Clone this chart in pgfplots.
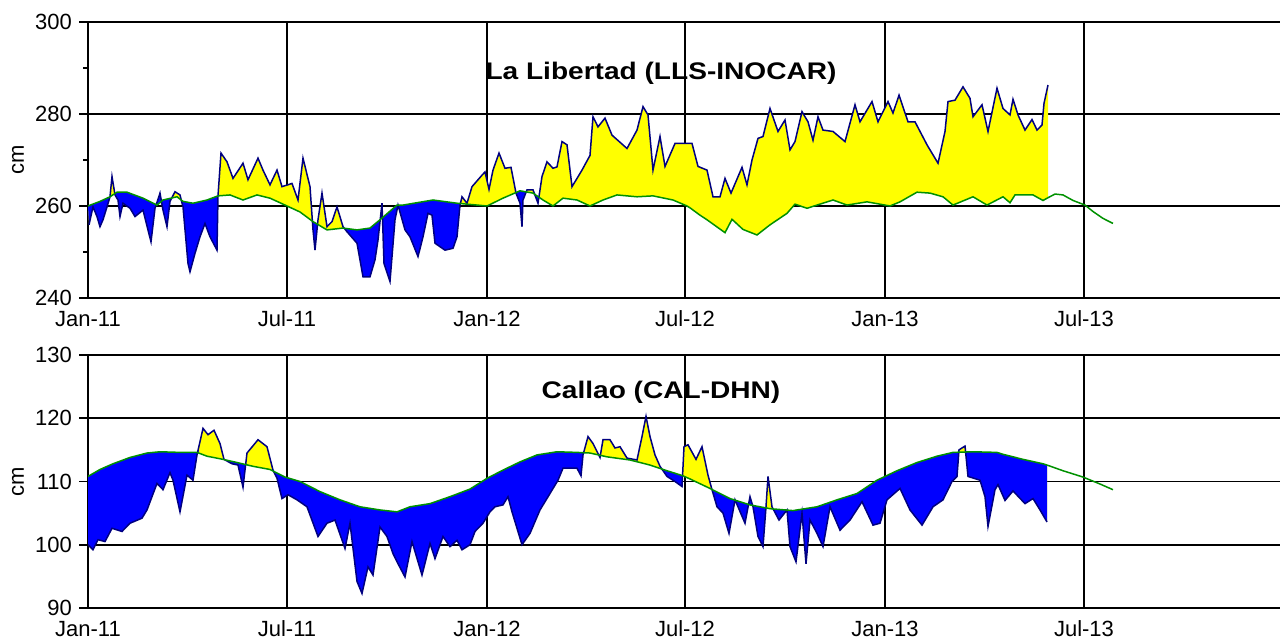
\documentclass[border=0pt]{standalone}
\usepackage{pgfplots}
\pgfplotsset{compat=1.18}
\usepackage{pgfplotstable}
\usepgfplotslibrary{fillbetween}
\usepackage{fontspec}
\setmainfont{Liberation Sans}
\newfontfamily\titlefont{Liberation Sans}[FakeStretch=1.17]

\definecolor{fyellow}{RGB}{255,255,0}
\definecolor{fblue}{RGB}{0,0,255}
\definecolor{navyl}{RGB}{0,0,128}
\definecolor{gline}{RGB}{0,145,0}

% x = horizontal position on the time axis (0 = 1 Jan 2011)
\pgfplotstableread{
x y
1 255.9
5 259.8
9 257.7
12 255.5
15 257
19 259.8
22 262
24 266.4
27 262.4
30 261.3
32 257.7
35 260.6
42 259.5
47 257.7
55 259.1
63 252.2
67 259.5
72 262.8
75 259.1
79 255.5
82 261
87 263.1
92 262.4
95 259.8
100 247.5
102 245.7
107 249.7
112 253.3
117 256.2
122 253.3
129 250.4
130 262.2
133 271.5
139 269.6
145 266
155 269.3
160 265.7
170 270.4
175 267.8
182 264.6
189 267.8
194 264.2
204 264.9
210 261.3
215 270.4
222 264.2
225 254.8
227 250.4
230 257
234 262.8
239 255.5
244 256.6
249 259.8
255 255.5
259 254.4
269 251.9
275 244.6
282 244.6
287 248.3
290 252.6
294 260.6
296 247.5
302 243.6
307 257
310 260.2
317 254.8
322 253.3
330 249
335 253.3
340 258.4
344 258
347 251.9
357 250.4
365 250.8
369 253.3
372 260.2
374 262
379 260.6
384 264.2
394 266.7
397 267.4
401 263.6
405 267.8
411 271.5
417 268.2
423 268.4
428 262.8
432 260.6
434 255.5
435 261.3
439 263.5
445 263.5
450 260.6
454 266.4
459 269.6
465 268.2
469 268.5
474 274
479 273.3
484 264.2
494 267.8
502 271
505 279.4
510 277.2
517 279.1
524 275.4
539 272.5
549 276.5
555 281.6
560 279.8
565 267.8
572 275.1
577 268.6
587 273.6
604 273.6
610 268.6
619 267.8
625 262
632 262
637 266
643 262.8
654 268.4
659 264.6
664 270
670 274.7
675 275.1
682 281.2
690 276.2
697 278.7
702 272.2
707 274
714 280.5
720 278.3
725 274.3
730 279.4
735 276.5
745 276.2
757 274
767 282
772 278.3
784 282.7
790 278.3
800 282.7
805 280.2
811 284.1
820 278.3
827 278.3
839 273.3
850 269.3
857 276.2
860 282.7
867 283
875 285.9
882 283.4
885 279.4
894 282
900 276.2
909 285.6
915 281.2
922 279.8
925 283.2
930 279.8
937 276.5
944 278.8
949 276.5
954 277.6
956 282.3
960 286.3
}\obsA

\pgfplotstableread{
x y
0 260.0
12 261
22 262
29 263
39 263
55 261.7
69 260.2
75 261.3
89 262
95 261
105 260.6
119 261.3
130 262.2
142 262.4
155 261.3
169 262.4
182 261.7
199 260
212 258.7
225 256.6
239 254.8
255 255.2
269 254.8
282 255.2
292 257
309 260.2
315 260.2
345 261.3
369 260.6
399 260
415 261.7
432 263.3
445 262.8
455 261.3
465 260
475 261.7
489 261.3
502 260
515 261.3
529 262.4
549 262
565 262.2
585 261.3
599 260
602 259.6
612 258
619 257
637 254.2
644 257.1
655 254.9
669 253.7
682 255.9
699 258.4
707 260.4
719 259.5
729 260.2
745 261.3
759 260.2
779 260.9
802 260
812 260.9
829 263
842 262.8
855 262
865 260.2
885 262
899 260.2
915 262
922 260.7
927 262.4
945 262.4
955 261.2
960 261.8
967 262.6
975 262.4
985 261.2
997 260.2
1005 258.8
1015 257.3
1025 256.2
}\meanA

\pgfplotstableread{
x y
0 100
5 99.2
10 100.8
17 100.5
24 102.6
34 102.1
42 103.4
54 104.2
59 105.5
64 107.6
69 109.7
75 108.7
82 111.4
85 110.2
92 105.2
99 111
105 110.2
109 114.2
115 118.4
120 117.4
126 118.1
132 116
136 113.5
144 112.8
150 112.6
155 109.1
159 114.5
170 116.6
179 115.5
185 111.8
189 110.5
194 107.3
200 107.9
209 107.1
219 106
230 101.3
239 103.4
247 103.9
257 99.4
262 103.4
269 94.2
274 92.3
280 96.5
285 95.2
292 102.8
299 101.3
305 98.6
310 97
317 94.9
324 100.5
334 95.2
342 100.2
347 97.8
355 101.3
362 99.7
369 100.7
374 99.2
382 100
387 102.1
395 103.4
402 105.2
407 106
415 106.3
420 107.6
424 105.2
434 100
442 101.8
452 105.5
462 108.1
470 110.2
475 112.1
489 112.1
493 110.9
495 114.2
500 117.1
505 116
512 113.8
515 116.6
522 116.6
527 115.3
532 115.5
539 113.7
549 113.4
554 117.1
558 120.3
562 117.1
567 114.2
572 112.4
579 110.8
587 110
594 109.2
596 115.5
600 115.8
608 113.5
614 115.5
620 111
624 108.7
629 106
635 105
641 101.8
647 107.1
657 103.4
662 107.6
665 106
670 101.3
675 99.7
678 106
680 110.8
684 106
691 103.9
699 105.5
702 99.7
708 97.3
714 105
718 97
722 103.9
729 101.8
735 99.7
742 106
752 102.3
762 103.9
774 106.8
785 103.1
792 103.4
799 107.1
812 108.9
822 105.5
834 103.1
845 106
855 107.1
864 110
869 110.8
871 115
877 115.6
880 110.8
892 110.2
897 107.6
900 102.9
907 108.7
910 109.5
917 107
925 108.5
937 106.5
945 107.3
952 105.5
959 103.6
}\obsB

\pgfplotstableread{
x y
0 110.8
12 111.9
25 112.8
42 113.8
59 114.5
72 114.7
92 114.6
109 114.6
119 114
135 113.5
149 113
165 112.4
182 111.9
197 110.7
212 110
232 108.4
252 107.1
272 106
292 105.5
309 105.2
322 106
342 106.5
362 107.6
382 108.8
399 110.5
415 111.8
432 113.1
449 114.2
469 114.7
489 114.6
502 114.5
519 113.9
542 113.4
562 112.6
579 111.7
595 110.9
602 110.4
622 108.9
642 107.3
662 106.3
682 105.7
705 105.4
729 106
749 107.1
769 108.1
789 110.2
809 111.7
829 113
849 114
865 114.6
885 114.7
909 114.6
915 114.3
935 113.5
955 112.8
959 112.6
975 111.7
995 110.7
1012 109.6
1025 108.7
}\meanB

\pgfplotsset{
  panel/.style={
    scale only axis, width=596pt, xmin=0, xmax=1192,
    axis x line*=bottom, axis y line*=left,
    axis line style={-, black, line width=0.9pt},
    xtick={0,199,399,597,797,996},
    xticklabels={Jan-11,Jul-11,Jan-12,Jul-12,Jan-13,Jul-13},
    grid=major, major grid style={black, line width=0.9pt},
    tick align=outside,
    x tick style={draw=none},
    y tick style={black, line width=0.9pt},
    major tick length=4.5pt, minor tick length=2.5pt,
    tick label style={font=\fontsize{11}{13}\selectfont},
    xticklabel style={yshift=1.5pt},
    /pgf/number format/assume math mode=true,
    ylabel={cm},
    ylabel style={at={(axis description cs:-0.0587,0.5)}, anchor=center, font=\fontsize{11}{13}\selectfont},
  },
  obsline/.style={navyl, line width=0.75pt},
  meanline/.style={gline, line width=0.75pt},
  yfill/.style={fill=fyellow, draw=none},
  bfill/.style={fill=fblue, draw=none},
}

\begin{document}
\begin{tikzpicture}

\begin{axis}[panel, at={(44pt,171pt)}, anchor=south west, height=138pt,
  ymin=240, ymax=300, ytick={240,260,280,300}, minor ytick={250,270,290}]
  \addplot[draw=none, name path=meanAf, restrict x to domain=0:960, forget plot] table {\meanA};
  \addplot[obsline, name path=obsA] table {\obsA};
  \addplot[meanline] table {\meanA};
  % above the mean: yellow; below the mean: blue
  \addplot[yfill] fill between[of=obsA and meanAf];
  \addplot[bfill] fill between[of=obsA and meanAf, soft clip={domain=0:22.5}];
  \addplot[bfill] fill between[of=obsA and meanAf, soft clip={domain=26.5:84}];
  \addplot[bfill] fill between[of=obsA and meanAf, soft clip={domain=93.5:130}];
  \addplot[bfill] fill between[of=obsA and meanAf, soft clip={domain=224:229}];
  \addplot[bfill] fill between[of=obsA and meanAf, soft clip={domain=257:373}];
  \addplot[bfill] fill between[of=obsA and meanAf, soft clip={domain=427.8:438}];
  \addplot[bfill] fill between[of=obsA and meanAf, soft clip={domain=447:451.5}];
  \node[font=\titlefont\bfseries\fontsize{12}{14}\selectfont] at (axis description cs:0.4807,0.815) {La Libertad (LLS-INOCAR)};
\end{axis}

\begin{axis}[panel, at={(44pt,16pt)}, anchor=south west, height=126.5pt,
  ymin=90, ymax=130, ytick={90,100,110,120,130}]
  \addplot[draw=none, name path=meanBf, restrict x to domain=0:959, forget plot] table {\meanB};
  \addplot[obsline, name path=obsB] table {\obsB};
  \addplot[meanline] table {\meanB};
  \addplot[yfill] fill between[of=obsB and meanBf];
  \addplot[bfill] fill between[of=obsB and meanBf, soft clip={domain=0:110.5}];
  \addplot[bfill] fill between[of=obsB and meanBf, soft clip={domain=136:157}];
  \addplot[bfill] fill between[of=obsB and meanBf, soft clip={domain=184.5:496}];
  \addplot[bfill] fill between[of=obsB and meanBf, soft clip={domain=573:594.2}];
  \addplot[bfill] fill between[of=obsB and meanBf, soft clip={domain=624:677.8}];
  \addplot[bfill] fill between[of=obsB and meanBf, soft clip={domain=686:870.5}];
  \addplot[bfill] fill between[of=obsB and meanBf, soft clip={domain=878:959}];
  \node[font=\titlefont\bfseries\fontsize{12}{14}\selectfont] at (axis description cs:0.4807,0.854) {Callao (CAL-DHN)};
\end{axis}

\pgfresetboundingbox
\path[use as bounding box] (0,0) rectangle (640pt,320pt);
\end{tikzpicture}
\end{document}
